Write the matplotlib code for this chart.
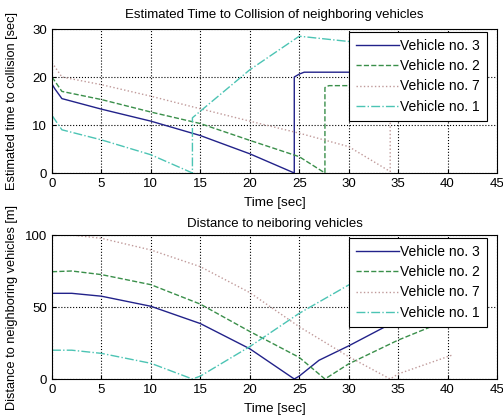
import matplotlib.pyplot as plt

plt.rcParams.update({'font.size': 8, 'font.family': 'Liberation Sans'})

labels = ["Vehicle no. 3", "Vehicle no. 2", "Vehicle no. 7", "Vehicle no. 1"]
colors = ["#22228a", "#3a8f4a", "#c09a9a", "#4cc4b4"]
styles = ["-", "--", ":", "-."]

# time to collision [sec]
ttc_t3 = [0, 0.3, 1, 5, 10, 15, 20, 24.5, 24.5, 25, 25.5, 40.5]
ttc_v3 = [18.5, 17.5, 15.5, 13.3, 10.8, 7.8, 4.0, 0, 20, 20.6, 21, 21]
ttc_t2 = [0, 1, 5, 10, 15, 20, 25, 27.6, 27.6, 28, 40.5]
ttc_v2 = [20, 17, 15.3, 12.7, 10.3, 6.8, 3.4, 0, 17.8, 18.2, 18.2]
ttc_t7 = [0, 1, 5, 10, 14, 20, 25, 30, 34.2, 34.2, 40.5]
ttc_v7 = [23, 20, 18.4, 16, 13.9, 10.8, 8.3, 5.5, 0.3, 26, 26]
ttc_t1 = [0, 1, 5, 10, 14.2, 14.2, 20, 25, 30, 40.5]
ttc_v1 = [12, 9, 6.9, 3.8, 0, 11.5, 21.5, 28.5, 27.4, 25]

# distance [m]
d_t3 = [0, 2, 5, 10, 15, 20, 24.5, 25, 27, 30, 35, 40.5]
d_v3 = [59.5, 59.5, 57.5, 50.5, 38.5, 21, 0, 2, 13, 23, 41, 55]
d_t2 = [0, 2, 5, 10, 15, 20, 25, 27.6, 30, 35, 40, 40.5]
d_v2 = [74.5, 75, 72.5, 65.5, 52, 33, 15, 0, 10.5, 27, 41, 42]
d_t7 = [0, 2, 5, 10, 15, 20, 25, 30, 34.2, 35, 40, 40.5]
d_v7 = [101, 100, 97.7, 89.6, 78, 60, 36.3, 15.5, 0, 3.5, 15.5, 16.7]
d_t1 = [0, 2, 5, 10, 14.2, 15, 20, 25, 30, 35, 40.5]
d_v1 = [20, 20, 17.8, 10.9, 0, 2, 22.5, 45.6, 65.3, 80, 92]

fig = plt.figure(figsize=(5.03, 4.17), dpi=100)
ax1 = fig.add_axes([52/503, 1 - 173/417, 445/503, 144/417])
ax2 = fig.add_axes([52/503, 1 - 379/417, 445/503, 144/417])

ttc = [(ttc_t3, ttc_v3), (ttc_t2, ttc_v2), (ttc_t7, ttc_v7), (ttc_t1, ttc_v1)]
dist = [(d_t3, d_v3), (d_t2, d_v2), (d_t7, d_v7), (d_t1, d_v1)]

for (t, v), c, s, lab in zip(ttc, colors, styles, labels):
    ax1.plot(t, v, color=c, linestyle=s, linewidth=1, label=lab)
for (t, v), c, s, lab in zip(dist, colors, styles, labels):
    ax2.plot(t, v, color=c, linestyle=s, linewidth=1, label=lab)

ax1.set_ylim(0, 30)
ax1.set_yticks([0, 10, 20, 30])
ax1.set_title("Estimated Time to Collision of neighboring vehicles", fontsize=9.5, pad=8)
ax1.set_ylabel("Estimated time to collision [sec]", fontsize=9.2)

ax2.set_ylim(0, 100)
ax2.set_yticks([0, 50, 100])
ax2.set_title("Distance to neiboring vehicles", fontsize=9.5, pad=6)
ax2.set_ylabel("Distance to neighboring vehicles [m]", fontsize=9.2)

for ax in (ax1, ax2):
    ax.set_xlim(0, 45)
    ax.set_xticks(range(0, 46, 5))
    ax.set_xlabel("Time [sec]", fontsize=9.7, labelpad=5)
    ax.yaxis.set_label_coords(-34/445, 0.5)
    ax.grid(True, color='black', linestyle=':', linewidth=0.8)
    ax.tick_params(direction='in', labelsize=9.5, length=3)
    leg = ax.legend(loc='upper right', bbox_to_anchor=(0.978, 0.979), borderaxespad=0,
                    fontsize=10, handlelength=3.1, fancybox=False, framealpha=1,
                    edgecolor='black', borderpad=0.5, labelspacing=0.45,
                    handletextpad=0.1)
    leg.get_frame().set_linewidth(0.8)

fig.savefig("out.png", dpi=100)
